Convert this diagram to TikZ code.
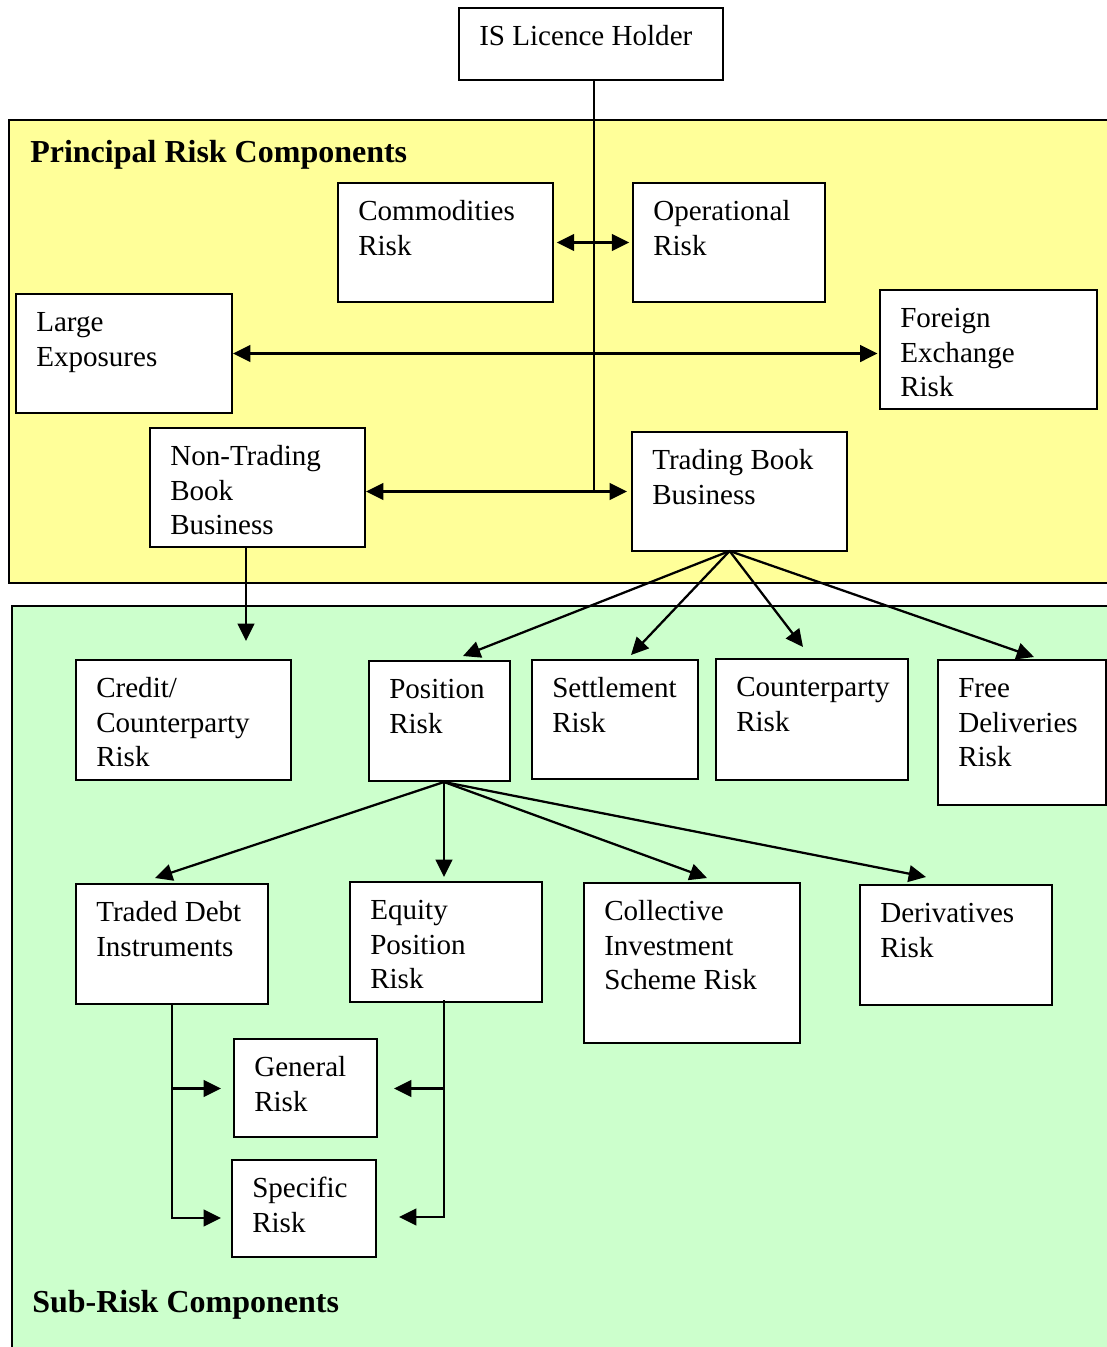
\documentclass[tikz,border=0pt]{standalone}
\usepackage{fontspec}
\setmainfont{Liberation Serif}
\usetikzlibrary{arrows.meta,fit}
\definecolor{panelY}{HTML}{FFFF99}
\definecolor{panelG}{HTML}{CCFFCC}
\newcommand\fstrut{\rule{0pt}{20pt}}
\newcommand\mkbox[6]{%
  \node[boxst,fit={(#2,#3) (#4,#5)}] (#1) {};
  \node[txtst] (#1t) at (#2+20,#3+10.5) {\fstrut #6};}
\tikzset{
  boxst/.style={draw=black,fill=white,line width=1.7pt,inner sep=0pt},
  txtst/.style={anchor=north west,inner sep=0pt,align=left,font=\fontsize{21.8pt}{26pt}\selectfont},
  ttl/.style={anchor=base west,inner sep=0pt,font=\fontsize{24pt}{28pt}\selectfont\bfseries},
  ln/.style={line width=1.7pt},
  arr/.style={line width=1.7pt,-{Triangle[length=13pt,width=12.5pt]}},
  darr/.style={line width=1.7pt,{Triangle[length=13pt,width=12.5pt]}-{Triangle[length=13pt,width=12.5pt]}},
  panel/.style={draw=black,line width=1.7pt,inner sep=0pt}
}
\begin{document}
\begin{tikzpicture}[x=0.75pt,y=-0.75pt]
\useasboundingbox (0,0) rectangle (1107,1347);
% panels
\node[panel,fill=panelY,fit={(9,120) (1130,583)}] (pp) {};
\node[panel,fill=panelG,fit={(12,606) (1130,1370)}] (sp2) {};
\node[ttl] (h1) at (30,162) {Principal Risk Components};
\node[ttl] (h2) at (32,1312) {Sub-Risk Components};
% boxes
\mkbox{is}{459}{8}{723}{80}{IS Licence Holder}
\mkbox{cr}{338}{183}{553}{302}{Commodities\\Risk}
\mkbox{op}{633}{183}{825}{302}{Operational\\Risk}
\mkbox{le}{16}{294}{232}{413}{Large\\Exposures}
\mkbox{fx}{880}{290}{1097}{409}{Foreign\\Exchange\\Risk}
\mkbox{nt}{150}{428}{365}{547}{Non-Trading\\Book\\Business}
\mkbox{tb}{632}{432}{847}{551}{Trading Book\\Business}
\mkbox{cc}{76}{660}{291}{780}{Credit/\\Counterparty\\Risk}
\mkbox{pr}{369}{661}{510}{781}{Position\\Risk}
\mkbox{sr}{532}{660}{698}{779}{Settlement\\Risk}
\mkbox{cp}{716}{659}{908}{780}{Counterparty\\Risk}
\mkbox{fd}{938}{660}{1106}{805}{Free\\Deliveries\\Risk}
\mkbox{td}{76}{884}{268}{1004}{Traded Debt\\Instruments}
\mkbox{ep}{350}{882}{542}{1002}{Equity\\Position\\Risk}
\mkbox{ci}{584}{883}{800}{1043}{Collective\\Investment\\Scheme Risk}
\mkbox{dr}{860}{885}{1052}{1005}{Derivatives\\Risk}
\mkbox{gr}{234}{1039}{377}{1137}{General\\Risk}
\mkbox{sk}{232}{1160}{376}{1257}{Specific\\Risk}
% connectors in principal panel
\coordinate (cv) at (594,491.5);
\draw[ln] (is.south -| cv) -- (cv);
\draw[darr,shorten <=2pt,shorten >=2pt] (cr.east) -- (op.west);
\draw[darr,shorten >=1pt] (le.east) -- (le.east -| fx.west);
\draw[darr,shorten >=3pt] (tb.west -| nt.east) -- (tb.west);
\coordinate (ca) at (246,641);
\draw[arr] (nt.south -| ca) -- (ca);
% trading book fan
\coordinate (tbo) at (729.6,551);
\coordinate (p1) at (463,656);
\coordinate (p2) at (631,655);
\coordinate (p3) at (803,647);
\coordinate (p4) at (1034,657);
\foreach \c in {p1,p2,p3,p4} \draw[arr] (tbo) -- (\c);
% position risk fan
\coordinate (pro) at (444,782);
\coordinate (q1) at (155,878);
\coordinate (q2) at (444,877);
\coordinate (q3) at (707,878);
\coordinate (q4) at (926,877);
\foreach \c in {q1,q2,q3,q4} \draw[arr] (pro) -- (\c);
% sub-risk connectors
\coordinate (g1) at (221,1088.5);
\coordinate (s1) at (221,1218);
\draw[arr] (td.south) |- (s1);
\draw[arr] (td.south |- g1) -- (g1);
\coordinate (et) at (444,1000);
\coordinate (g2) at (394,1088.5);
\coordinate (s2) at (399,1217);
\draw[arr] (et) |- (s2);
\draw[arr] (et |- g2) -- (g2);
\end{tikzpicture}
\end{document}
